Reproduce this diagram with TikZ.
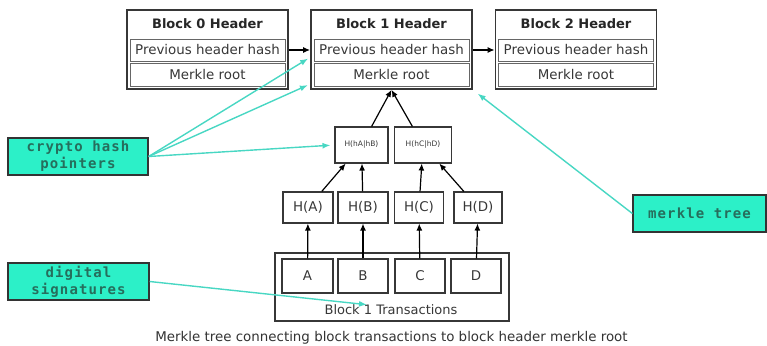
\documentclass[tikz,border=0pt]{standalone}
\usepackage{fontspec}
\setmainfont{DejaVu Sans}
\newfontfamily\lblfont[LetterSpace=8]{DejaVu Sans Mono}
\usetikzlibrary{arrows.meta,calc}
\definecolor{tq}{RGB}{44,240,200}
\definecolor{tqline}{RGB}{72,215,195}
\definecolor{tqtext}{RGB}{38,110,92}
\definecolor{dk}{RGB}{55,55,55}
\begin{document}
\begin{tikzpicture}[x=1pt,y=-1pt,
 blockbox/.style={draw=dk,line width=1.8pt,minimum width=161pt,minimum height=79pt,inner sep=0pt},
 rowbox/.style={draw=gray!80!black,line width=0.9pt,minimum width=155pt,inner sep=0pt,font=\fontsize{13.4}{15}\selectfont,text=dk},
 titletext/.style={font=\bfseries\fontsize{13}{15}\selectfont,text=black!85,inner sep=0pt},
 hbox/.style={draw=dk,line width=1.1pt,minimum height=31pt,inner sep=0pt,font=\fontsize{13.4}{15}\selectfont,text=dk},
 smallh/.style={draw=dk,line width=1.1pt,minimum height=36pt,inner sep=0pt,font=\fontsize{7.5}{8}\selectfont,text=dk},
 txbox/.style={draw=dk,line width=1.1pt,minimum height=34pt,inner sep=0pt,font=\fontsize{13.4}{15}\selectfont,text=dk},
 lbl/.style={draw=black!80,line width=1.3pt,fill=tq,text=tqtext,font=\lblfont\bfseries\fontsize{14}{17}\selectfont,align=center,inner sep=0pt,minimum height=37pt},
 arr/.style={draw=black,line width=1.2pt,-{Latex[length=7pt,width=6pt]}},
 tqarr/.style={draw=tqline,line width=1.4pt,-{Latex[length=8pt,width=6pt]},shorten >=4pt}]
\useasboundingbox (0,0) rectangle (767,345);

% block headers
\foreach \n/\cx in {0/207.5,1/391.5,2/576}{
  \node[blockbox] (b\n) at (\cx,49.5) {};
  \node[titletext] (b\n t) at (\cx,24) {Block \n\ Header};
  \node[rowbox,minimum height=22pt] (b\n p) at (\cx,50) {Previous header hash};
  \node[rowbox,minimum height=23pt] (b\n m) at (\cx,74.5) {Merkle root};
}

% tree
\node[smallh,minimum width=53pt] (hAB) at (361.5,145) {H(hA|hB)};
\node[smallh,minimum width=57pt] (hCD) at (423,145) {H(hC|hD)};
\node[hbox,minimum width=50pt] (hA) at (308,207.5) {H(A)};
\node[hbox,minimum width=50pt] (hB) at (363,207.5) {H(B)};
\node[hbox,minimum width=49pt] (hC) at (419,207.5) {H(C)};
\node[hbox,minimum width=48pt] (hD) at (478,207.5) {H(D)};

% transactions
\node[draw=dk,line width=1.1pt,minimum width=234pt,minimum height=68pt,inner sep=0pt] (txo) at (392,287) {};
\node[txbox,minimum width=51pt] (tA) at (307.5,276) {A};
\node[txbox,minimum width=50pt] (tB) at (363,276) {B};
\node[txbox,minimum width=50pt] (tC) at (420,276) {C};
\node[txbox,minimum width=50pt] (tD) at (476,276) {D};
\node[font=\fontsize{13}{15}\selectfont,text=dk,inner sep=0pt] (txl) at (391,310) {Block 1 Transactions};

% caption
\node[font=\fontsize{13.4}{15}\selectfont,text=black!80,inner sep=0pt] (cap) at (391.5,338) {Merkle tree connecting block transactions to block header merkle root};

% labels
\node[lbl,minimum width=140pt] (cr) at (78,156.5) {crypto hash\\pointers};
\node[lbl,minimum width=141pt] (ds) at (78.5,281.5) {digital\\signatures};
\node[lbl,minimum width=133pt] (mt) at (699.5,213.5) {merkle tree};

% black arrows
\draw[arr] (b0.east |- b0p.center) -- (b1.west |- b1p.center);
\draw[arr] (b1.east |- b1p.center) -- (b2.west |- b2p.center);
\draw[arr] (hAB) -- (b1.south);
\draw[arr] (hCD) -- (b1.south);
\draw[arr] (hA) -- (hAB);
\draw[arr] (hB) -- (hAB);
\draw[arr] (hC) -- (hCD);
\draw[arr] (hD) -- (hCD);
\draw[arr] (tA) -- (hA);
\draw[arr] (tB) -- (hB);
\draw[arr] (tC) -- (hC);
\draw[arr] (tD) -- (hD);

% turquoise arrows
\draw[tqarr] (cr.east) -- ([xshift=-2pt,yshift=5pt]b1p.south west);
\draw[tqarr] (cr.east) -- ([xshift=-2pt,yshift=3pt]b1m.south west);
\draw[tqarr] (cr.east) -- (hAB.west);
\draw[tqarr,shorten >=3pt] (ds.east) -- ($(txl.center)+(-21,-5)$);
\draw[tqarr,shorten >=6pt] (mt.west) -- (b1.south east);
\end{tikzpicture}
\end{document}
